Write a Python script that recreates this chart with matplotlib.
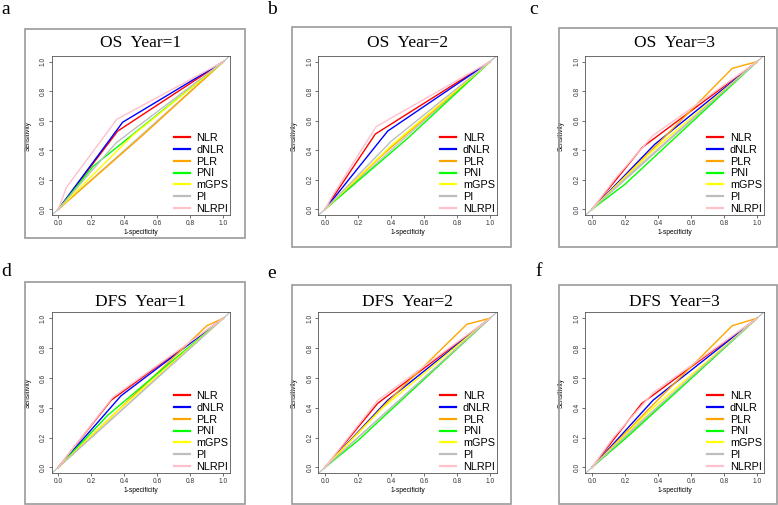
import numpy as np
import matplotlib.pyplot as plt
from matplotlib.patches import Rectangle

plt.rcParams['font.family'] = ['Liberation Sans', 'DejaVu Sans']

W, H = 778, 505

markers = ["NLR", "dNLR", "PLR", "PNI", "mGPS", "PI", "NLRPI"]
colors = ["#FF0000", "#0000FF", "#FFA500", "#00FF00", "#FFFF00", "#BEBEBE", "#FFC0CB"]

# ROC points (1-specificity, sensitivity), one list per marker, same order as markers
os1_fpr = [[0, 0.36, 1], [0, 0.39, 1], [0, 0.5, 1], [0, 0.21, 1], [0, 0.45, 1], [0, 0.35, 1], [0, 0.05, 0.355, 1]]
os1_tpr = [[0, 0.53, 1], [0, 0.59, 1], [0, 0.49, 1], [0, 0.29, 1], [0, 0.5, 1], [0, 0.45, 1], [0, 0.15, 0.61, 1]]

os2_fpr = [[0, 0.305, 1], [0, 0.38, 1], [0, 0.35, 1], [0, 0.5, 1], [0, 0.4, 1], [0, 0.4, 1], [0, 0.05, 0.31, 1]]
os2_tpr = [[0, 0.51, 1], [0, 0.53, 1], [0, 0.37, 1], [0, 0.48, 1], [0, 0.43, 1], [0, 0.46, 1], [0, 0.1, 0.56, 1]]

os3_fpr = [[0, 0.305, 1], [0, 0.38, 1], [0, 0.37, 0.85, 1], [0, 0.2, 1], [0, 0.35, 1], [0, 0.3, 1], [0, 0.15, 0.37, 1]]
os3_tpr = [[0, 0.42, 1], [0, 0.44, 1], [0, 0.41, 0.955, 1], [0, 0.17, 1], [0, 0.38, 1], [0, 0.31, 1], [0, 0.22, 0.5, 1]]

dfs1_fpr = [[0, 0.32, 1], [0, 0.38, 1], [0, 0.9, 1], [0, 0.3, 1], [0, 0.35, 1], [0, 0.3, 1], [0, 0.33, 1]]
dfs1_tpr = [[0, 0.45, 1], [0, 0.48, 1], [0, 0.95, 1], [0, 0.35, 1], [0, 0.37, 1], [0, 0.3, 1], [0, 0.47, 1]]

dfs2_fpr = [[0, 0.32, 1], [0, 0.38, 1], [0, 0.38, 0.86, 1], [0, 0.2, 1], [0, 0.35, 1], [0, 0.3, 1], [0, 0.32, 1]]
dfs2_tpr = [[0, 0.43, 1], [0, 0.45, 1], [0, 0.44, 0.96, 1], [0, 0.18, 1], [0, 0.4, 1], [0, 0.3, 1], [0, 0.45, 1]]

dfs3_fpr = [[0, 0.3, 1], [0, 0.37, 1], [0, 0.37, 0.85, 1], [0, 0.22, 1], [0, 0.35, 1], [0, 0.3, 1], [0, 0.13, 0.37, 1]]
dfs3_tpr = [[0, 0.427, 1], [0, 0.45, 1], [0, 0.42, 0.95, 1], [0, 0.21, 1], [0, 0.38, 1], [0, 0.31, 1], [0, 0.2, 0.5, 1]]

titles = ["OS  Year=1", "OS  Year=2", "OS  Year=3", "DFS  Year=1", "DFS  Year=2", "DFS  Year=3"]
letters = ["a", "b", "c", "d", "e", "f"]
fprs = [os1_fpr, os2_fpr, os3_fpr, dfs1_fpr, dfs2_fpr, dfs3_fpr]
tprs = [os1_tpr, os2_tpr, os3_tpr, dfs1_tpr, dfs2_tpr, dfs3_tpr]

# layout in pixels: plot box (left, top, width, height), outer frame (x0, y0, x1, y1), letter (x, y)
boxes = [(51.7, 55.8, 178.2, 159.4), (318.4, 55.8, 178.2, 159.4), (585.4, 55.8, 178.2, 159.4),
         (51.7, 312.3, 178.2, 161), (318.4, 312.3, 178.2, 161), (585.4, 312.3, 178.2, 161)]
frames = [(25, 29, 245, 238), (291.7, 27, 510.7, 247), (558.7, 28, 777, 247),
          (25, 282, 245, 504), (291.7, 285, 510.7, 504), (558.7, 285, 777, 504)]
letter_pos = [(6, 10), (272, 9), (534, 9), (6, 272), (272, 273), (539, 272)]

fig = plt.figure(figsize=(W / 100, H / 100), dpi=100)

def px(x, y):
    return x / W, 1 - y / H

for i in range(6):
    x0, y0, x1, y1 = frames[i]
    fig.patches.append(Rectangle(px(x0, y1), (x1 - x0) / W, (y1 - y0) / H, transform=fig.transFigure,
                                 fill=False, edgecolor='#9a9a9a', lw=1.2))
    lx, ly = letter_pos[i]
    fig.text(*px(lx, ly), letters[i], family='Liberation Serif', fontsize=14, ha='center', va='center')

    l, t, w, h = boxes[i]
    ax = fig.add_axes([l / W, 1 - (t + h) / H, w / W, h / H])
    ax.plot([-0.04, 1.04], [-0.04, 1.04], color='#BEBEBE', lw=0.9)
    for k in range(len(markers)):
        ax.plot(fprs[i][k], tprs[i][k], color=colors[k], lw=1.0, label=markers[k])
    ax.set_xlim(-0.04, 1.04)
    ax.set_ylim(-0.04, 1.04)
    ticks = [0, 0.2, 0.4, 0.6, 0.8, 1.0]
    ax.set_xticks(ticks)
    ax.set_yticks(ticks)
    ax.set_xticklabels(['%.1f' % v for v in ticks])
    ax.set_yticklabels(['%.1f' % v for v in ticks], rotation=90, va='center')
    ax.tick_params(labelsize=4.8, length=2.2, width=0.5, pad=1.5, colors='#333333')
    for s in ax.spines.values():
        s.set_linewidth(0.6)
        s.set_color('#555555')
    ax.set_xlabel('1-specificity', fontsize=4.8, labelpad=1)
    ax.set_ylabel('Sensitivity', fontsize=4.8, labelpad=6)
    gap = 13 if i < 3 else 10.6
    ax.text(0.5, 1 + gap / h, titles[i], transform=ax.transAxes, ha='center', va='center',
            family='Liberation Serif', fontsize=12.5)
    leg = ax.legend(loc='lower right', frameon=False, fontsize=7.8, handlelength=1.5,
                    handletextpad=0.6, labelspacing=0.16, borderaxespad=0.0, borderpad=0.15)
    for ln in leg.get_lines():
        ln.set_linewidth(1.6)

fig.savefig('out.png', dpi=100)
